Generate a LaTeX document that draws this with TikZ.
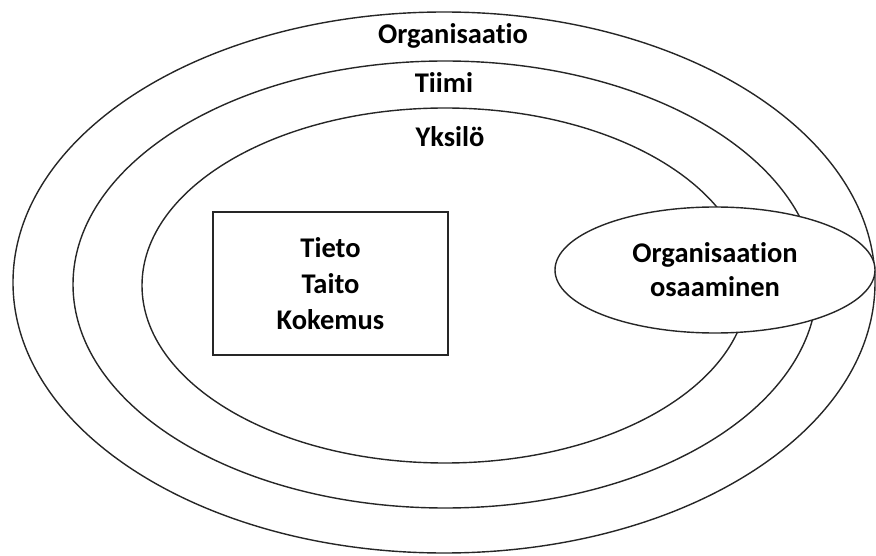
\documentclass[tikz,border=0pt]{standalone}
\usepackage{fontspec}
\setmainfont[Ligatures={NoCommon}]{Carlito}
\usetikzlibrary{shapes.geometric}
\begin{document}
\begin{tikzpicture}[x=1pt,y=-1pt,
  ring/.style={ellipse,draw=black!85,line width=1.4pt,inner sep=0pt},
  lbl/.style={font=\fontsize{28.5}{32}\selectfont\bfseries,anchor=base,inner sep=0pt},
  box/.style={draw=black!85,line width=1.4pt,fill=white,align=center,
    font=\fontsize{28.5}{36}\selectfont\bfseries}]
\useasboundingbox (0,0) rectangle (876,556);
\node[ring,minimum width=862pt,minimum height=541pt] (org) at (444,282.5) {};
\node[ring,minimum width=744pt,minimum height=447pt] (team) at (445,284.5) {};
\node[ring,minimum width=606pt,minimum height=355pt] (ind) at (445,285.5) {};
\node[lbl] (torg) at (453,44) {Organisaatio};
\node[lbl] (tteam) at (444,93) {Tiimi};
\node[lbl] (tind) at (450,147) {Yksilö};
\node[box,minimum width=235pt,minimum height=143pt] (knw) at (330.5,283.5) {Tieto\\Taito\\Kokemus};
\node[box,ellipse,inner sep=0pt,minimum width=320pt,minimum height=126pt,font=\fontsize{28.5}{34}\selectfont\bfseries] (osa) at (715,270) {Organisaation\\osaaminen};
\end{tikzpicture}
\end{document}
